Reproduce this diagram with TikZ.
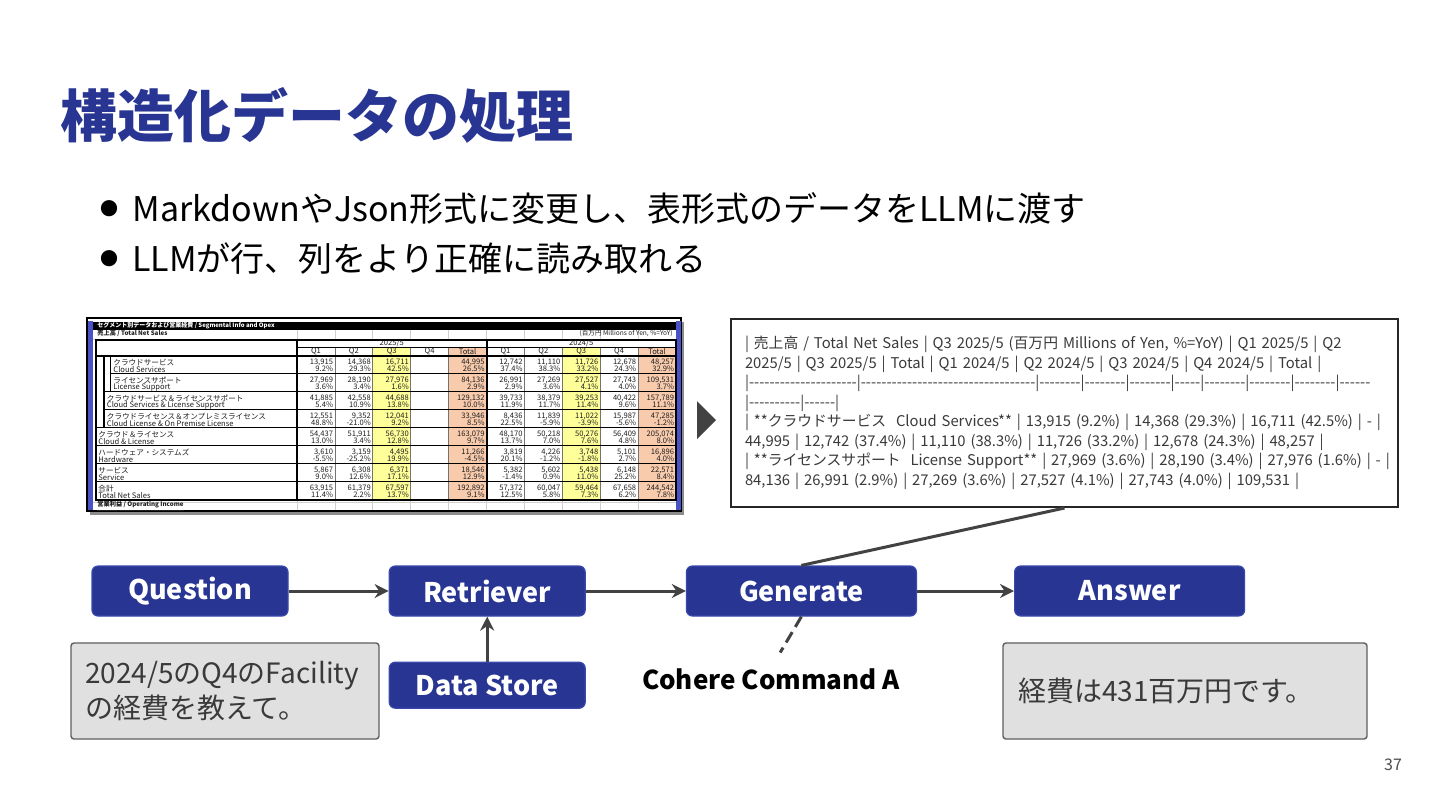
\documentclass[tikz,border=0pt]{standalone}
\usepackage{fontspec}
\usepackage{tikz}
\usetikzlibrary{positioning,arrows.meta,calc}
\newfontfamily\jp{Noto Sans CJK JP}
\definecolor{slideblue}{HTML}{283593}
\definecolor{edgeblue}{HTML}{3949AB}
\definecolor{ink}{HTML}{1E1E1E}
\definecolor{textgray}{HTML}{3A3A3A}
\definecolor{linegray}{HTML}{424242}
\definecolor{notegray}{HTML}{E0E0E0}
\definecolor{noteborder}{HTML}{5F5F5F}
\definecolor{cellyellow}{HTML}{FFFF99}
\definecolor{cellpeach}{HTML}{F8CBAD}
\definecolor{sheetgrid}{HTML}{D0D0D0}
\definecolor{winblue}{HTML}{4A52C8}
\newcommand{\bul}{\raisebox{3pt}{\fontsize{9}{9}\selectfont ●}\hspace{7pt}}
\tikzset{
    flowbox/.style={
        draw=edgeblue, fill=slideblue, line width=0.6pt, rounded corners=3pt,
        minimum width=98pt, minimum height=25pt, text=white,
        font=\fontsize{13.5}{16}\selectfont\bfseries, align=center
    },
    notebox/.style={
        draw=noteborder, fill=notegray, line width=0.7pt, rounded corners=1.5pt,
        minimum height=48pt, inner xsep=7pt,
        text=textgray, font=\fontsize{14}{17.5}\selectfont, align=left
    },
    mdbox/.style={
        draw=black!85, fill=white, line width=1pt,
        text width=319.5pt, inner xsep=7pt, minimum height=94pt,
        text=textgray, font=\fontsize{7.4}{9.75}\selectfont, align=left
    },
    pointtext/.style={
        inner sep=0pt, text=black, font=\fontsize{17}{20}\selectfont
    },
    cell/.style={inner sep=0pt, text=ink, font=\fontsize{3.8}{4}\selectfont},
    arrow/.style={-{Stealth[length=7pt,width=7pt]}, line width=1.5pt, color=linegray},
    link/.style={line width=1.5pt, color=linegray},
}
\begin{document}
\jp
\begin{tikzpicture}[x=0.5pt, y=-0.5pt, node distance=50pt]
\useasboundingbox (0,0) rectangle (1440,810);
\fill[white] (0,0) rectangle (1440,810);

\node[anchor=base west, inner sep=0pt, text=slideblue,
      font=\fontsize{28.5}{30}\selectfont\bfseries] (title) at (60,137) {構造化データの処理};
\node[pointtext, anchor=base west] (pt1) at (100,221) {\bul MarkdownやJson形式に変更し、表形式のデータをLLMに渡す};
\node[pointtext, anchor=base west] (pt2) at (100,271) {\bul LLMが行、列をより正確に読み取れる};

% spreadsheet snapshot
\fill[black!45] (90,322) rectangle (684,515);
\draw[fill=white, line width=0.6pt] (87,318) rectangle (681,511);
\foreach \c in {0,...,10}
    \draw[sheetgrid, line width=0.4pt] ({297+37.9*\c},330) -- ({297+37.9*\c},510);
\foreach \y in {339.5,502}
    \draw[sheetgrid, line width=0.4pt] (93,\y) -- (676,\y);
\fill[winblue] (88,321) rectangle (92.5,510);
\fill[winblue] (676,321) rectangle (680.5,510);
\fill[black] (93,322) rectangle (676,330);
\node[cell, anchor=west, text=white, font=\fontsize{3}{4}\selectfont\bfseries] (sheethead) at (97,326)
    {セグメント別データおよび営業経費 / Segmental Info and Opex};
\node[cell, anchor=west, font=\fontsize{3.1}{4}\selectfont\bfseries] (sales) at (97,335) {\underline{売上高 / Total Net Sales}};
\node[cell, anchor=east, font=\fontsize{3.3}{4}\selectfont] (unit) at (673,335.5) {\underline{(百万円 Millions of Yen, \%=YoY)}};
\node[cell, anchor=west, font=\fontsize{3.1}{4}\selectfont\bfseries] (opinc) at (97,506.5) {\underline{営業利益 / Operating Income}};

\fill[white] (96,339.5) rectangle (676,499.7);
\foreach \c/\fc in {3/cellyellow,5/cellpeach,8/cellyellow,10/cellpeach}
    \fill[\fc] ({297+37.9*(\c-1)},347.7) rectangle ({297+37.9*\c},499.7);
\foreach \c in {1,2,3,4,6,7,8,9}
    \draw[black!55, line width=0.4pt] ({297+37.9*\c},347.7) -- ({297+37.9*\c},499.7);
\draw[line width=0.5pt] (297,347.7) -- (676,347.7);
\draw[line width=0.8pt] (96,355.7) -- (676,355.7);
\foreach \k/\lx in {0/110.5,1/104,2/104,3/96,4/96,5/96,6/96}
    \draw[line width=0.6pt] (\lx,{373.7+18*\k}) -- (676,{373.7+18*\k});
\draw[line width=0.6pt] (104,355.7) -- (104,427.7);
\draw[line width=0.6pt] (110.5,355.7) -- (110.5,391.7);
\draw[line width=1pt] (96,339.5) rectangle (676,499.7);
\draw[line width=1pt] (297,339.5) -- (297,499.7);
\draw[line width=1pt] (486.5,339.5) -- (486.5,499.7);

\node[cell] (yr25) at (391.75,343.6) {2025/5};
\node[cell] (yr24) at (581.25,343.6) {2024/5};
\foreach \c/\q in {1/Q1,2/Q2,3/Q3,4/Q4,5/Total,6/Q1,7/Q2,8/Q3,9/Q4,10/Total}
    \node[cell] (hd\c) at ({297+37.9*\c-18.95},351.7) {\q};

\foreach \k/\ix/\ja/\en in {
    0/113/クラウドサービス/Cloud Services,
    1/113/ライセンスサポート/License Support,
    2/106.5/クラウドサービス＆ライセンスサポート/Cloud Services \& License Support,
    3/106.5/クラウドライセンス＆オンプレミスライセンス/Cloud License \& On Premise License,
    4/98/クラウド＆ライセンス/Cloud \& License,
    5/98/ハードウェア・システムズ/Hardware,
    6/98/サービス/Service,
    7/98/合計/Total Net Sales}{
    \node[cell, anchor=west] (ja\k) at (\ix,{362.7+18*\k}) {\ja};
    \node[cell, anchor=west] (en\k) at (\ix,{369.2+18*\k}) {\en};
}

\foreach \k/\vals in {
    0/{1/{13,915}/9.2, 2/{14,368}/29.3, 3/{16,711}/42.5, 5/{44,995}/26.5, 6/{12,742}/37.4, 7/{11,110}/38.3, 8/{11,726}/33.2, 9/{12,678}/24.3, 10/{48,257}/32.9},
    1/{1/{27,969}/3.6, 2/{28,190}/3.4, 3/{27,976}/1.6, 5/{84,136}/2.9, 6/{26,991}/2.9, 7/{27,269}/3.6, 8/{27,527}/4.1, 9/{27,743}/4.0, 10/{109,531}/3.7},
    2/{1/{41,885}/5.4, 2/{42,558}/10.9, 3/{44,688}/13.8, 5/{129,132}/10.0, 6/{39,733}/11.9, 7/{38,379}/11.7, 8/{39,253}/11.4, 9/{40,422}/9.6, 10/{157,789}/11.1},
    3/{1/{12,551}/48.8, 2/{9,352}/-21.0, 3/{12,041}/9.2, 5/{33,946}/8.5, 6/{8,436}/22.5, 7/{11,839}/-5.9, 8/{11,022}/-3.9, 9/{15,987}/-5.6, 10/{47,285}/-1.2},
    4/{1/{54,437}/13.0, 2/{51,911}/3.4, 3/{56,730}/12.8, 5/{163,079}/9.7, 6/{48,170}/13.7, 7/{50,218}/7.0, 8/{50,276}/7.6, 9/{56,409}/4.8, 10/{205,074}/8.0},
    5/{1/{3,610}/-5.5, 2/{3,159}/-25.2, 3/{4,495}/19.9, 5/{11,266}/-4.5, 6/{3,819}/20.1, 7/{4,226}/-1.2, 8/{3,748}/-1.8, 9/{5,101}/2.7, 10/{16,896}/4.0},
    6/{1/{5,867}/9.0, 2/{6,308}/12.6, 3/{6,371}/17.1, 5/{18,546}/12.9, 6/{5,382}/-1.4, 7/{5,602}/0.9, 8/{5,438}/11.0, 9/{6,148}/25.2, 10/{22,571}/8.4},
    7/{1/{63,915}/11.4, 2/{61,379}/2.2, 3/{67,597}/13.7, 5/{192,892}/9.1, 6/{57,372}/12.5, 7/{60,047}/5.8, 8/{59,464}/7.3, 9/{67,658}/6.2, 10/{244,542}/7.8}}{
    \foreach \c/\n/\p in \vals {
        \node[cell, anchor=east] (n\k-\c) at ({297+37.9*\c-1.5},{362.7+18*\k}) {\n};
        \node[cell, anchor=east] (p\k-\c) at ({297+37.9*\c-1.5},{369.2+18*\k}) {\p\%};
    }
}

\fill[linegray] (697,401) -- (716,420) -- (697,439) -- cycle;

\node[mdbox] (md) at (1064.5,413) {%
| 売上高 / Total Net Sales | Q3 2025/5 (百万円 Millions of Yen, \%=YoY) | Q1 2025/5 | Q2\\
2025/5 | Q3 2025/5 | Total | Q1 2024/5 | Q2 2024/5 | Q3 2024/5 | Q4 2024/5 | Total |\\
\mbox{|---------------------|----------------------------------|--------|--------|--------|-----|--------|--------|--------|------}\\
|----------|------|\\
\mbox{| **クラウドサービス\ \ Cloud Services** | 13,915 (9.2\%) | 14,368 (29.3\%) | 16,711 (42.5\%) | - |}\\
44,995 | 12,742 (37.4\%) | 11,110 (38.3\%) | 11,726 (33.2\%) | 12,678 (24.3\%) | 48,257 |\\
\mbox{| **ライセンスサポート\ \ License Support** | 27,969 (3.6\%) | 28,190 (3.4\%) | 27,976 (1.6\%) | - |}\\
84,136 | 26,991 (2.9\%) | 27,269 (3.6\%) | 27,527 (4.1\%) | 27,743 (4.0\%) | 109,531 |};

\node[flowbox] (q) at (190,591) {Question};
\node[flowbox, right=of q] (ret) {Retriever};
\node[flowbox, right=of ret, minimum width=115pt] (gen) {Generate};
\node[flowbox, right=48.5pt of gen, minimum width=115pt] (ans) {Answer};
\node[flowbox, below=22.5pt of ret, minimum height=23pt] (ds) {Data Store};
\node[font=\fontsize{13}{15}\selectfont\bfseries, inner sep=0pt] (cohere) at (771,679) {Cohere Command A};
\node[notebox, text width=140pt] (ask) at (225,691) {2024/5のQ4のFacility\\の経費を教えて。};
\node[notebox, text width=167pt, inner xsep=7.5pt] (reply) at (1185,691) {経費は431百万円です。};
\node[font=\fontsize{8}{9}\selectfont, text=black!70, inner sep=0pt] (page) at (1393,765) {37};

\draw[arrow] (q) -- (ret);
\draw[arrow] (ret) -- (gen);
\draw[arrow] (gen) -- (ans);
\draw[arrow] (ds) -- (ret);
\draw[link] (gen.north) -- (md.south);
\draw[link, dash pattern=on 6pt off 3pt, shorten >=9pt] (gen.south) -- (cohere.north);
\end{tikzpicture}
\end{document}
